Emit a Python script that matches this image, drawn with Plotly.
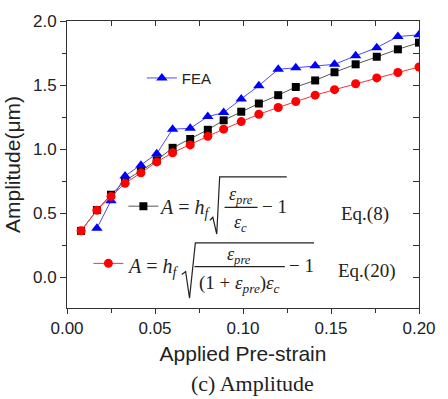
import plotly.graph_objects as go

# ---------------- data ----------------
strain = [0.008, 0.017, 0.025, 0.033, 0.042, 0.051, 0.060, 0.070, 0.080, 0.089,
          0.099, 0.109, 0.120, 0.130, 0.141, 0.152, 0.164, 0.176, 0.188, 0.200]
eq8 = [0.362, 0.525, 0.644, 0.754, 0.831, 0.913, 1.010, 1.079, 1.151, 1.225,
       1.292, 1.356, 1.421, 1.485, 1.536, 1.600, 1.662, 1.721, 1.779, 1.831]
eq20 = [0.362, 0.523, 0.631, 0.733, 0.815, 0.900, 0.972, 1.033, 1.100, 1.156,
        1.215, 1.272, 1.325, 1.372, 1.421, 1.464, 1.510, 1.556, 1.598, 1.641]
fea_strain = strain[1:]
fea = [0.382, 0.598, 0.790, 0.875, 0.964, 1.156, 1.162, 1.254, 1.285,
       1.392, 1.495, 1.623, 1.635, 1.651, 1.662, 1.728, 1.792, 1.879, 1.892]

x_ticks = [0.00, 0.05, 0.10, 0.15, 0.20]
y_ticks = [0.0, 0.5, 1.0, 1.5, 2.0]

W, H = 448, 399
L, R, T, B = 66, 20, 17, 91
PW, PH = W - L - R, H - T - B


def X(px):
    return (px - L) / PW


def Y(py):
    return (H - B - py) / PH


fig = go.Figure()
fig.add_trace(go.Scatter(x=strain, y=eq8, mode="lines+markers", name=" ",
                         line=dict(color="#555555", width=1),
                         marker=dict(symbol="square", size=8, color="#000000"),
                         legend="legend2"))
fig.add_trace(go.Scatter(x=fea_strain, y=fea, mode="lines+markers", name="FEA",
                         line=dict(color="#4a4aff", width=1),
                         marker=dict(symbol="triangle-up", size=10, color="#0000ff"),
                         legend="legend"))
fig.add_trace(go.Scatter(x=strain, y=eq20, mode="lines+markers", name=" ",
                         line=dict(color="#ff3030", width=1),
                         marker=dict(symbol="circle", size=9, color="#ff0000"),
                         legend="legend3"))

# invisible trace for top/right mirror axes
fig.add_trace(go.Scatter(x=[0, 0.2], y=[-0.24, 2.0], xaxis="x2", yaxis="y2",
                         mode="markers", marker=dict(opacity=0), showlegend=False,
                         hoverinfo="skip"))

tickfont = dict(family="Liberation Sans, Arial", size=17, color="#222222")
common_x = dict(range=[0, 0.2], showgrid=False, zeroline=False, linecolor="#333333",
                linewidth=1, tickcolor="#333333", ticklen=5, tickwidth=1)
common_y = dict(range=[-0.24, 2.0], showgrid=False, zeroline=False, linecolor="#333333",
                linewidth=1, tickcolor="#333333", ticklen=6, tickwidth=1)

fig.update_layout(
    width=W, height=H,
    margin=dict(l=L, r=R, t=T, b=B),
    paper_bgcolor="white", plot_bgcolor="white",
    xaxis=dict(**common_x, tickvals=x_ticks, ticktext=[f"{v:.2f}" for v in x_ticks],
               ticks="outside", tickfont=tickfont, showline=True,
               minor=dict(dtick=0.025, ticks="outside", ticklen=4, tickcolor="#333333"),
               title=dict(text="Applied Pre-strain",
                          font=dict(family="Liberation Sans, Arial", size=21, color="#222222"),
                          standoff=8)),
    yaxis=dict(**common_y, tickvals=y_ticks, ticktext=[f"{v:.1f}" for v in y_ticks],
               ticks="outside", tickfont=tickfont, showline=True,
               minor=dict(dtick=0.25, tick0=0, ticks="outside", ticklen=4, tickcolor="#333333"),
               title=dict(text="Amplitude(μm)",
                          font=dict(family="Liberation Sans, Arial", size=21, color="#222222"),
                          standoff=6)),
    xaxis2=dict(**common_x, overlaying="x", side="top", tickvals=x_ticks, ticks="inside",
                showticklabels=False, showline=True,
                minor=dict(dtick=0.025, ticks="inside", ticklen=5, tickcolor="#333333")),
    yaxis2=dict(**common_y, overlaying="y", side="right", tickvals=y_ticks, ticks="inside",
                showticklabels=False, showline=True,
                minor=dict(dtick=0.25, tick0=0, ticks="inside", ticklen=6, tickcolor="#333333")),
    legend=dict(x=X(143), y=Y(75), xanchor="left", yanchor="middle",
                bgcolor="rgba(0,0,0,0)", borderwidth=0,
                font=dict(family="Liberation Sans, Arial", size=15, color="#222222")),
    legend2=dict(x=X(124), y=Y(205), xanchor="left", yanchor="middle",
                 bgcolor="rgba(0,0,0,0)", borderwidth=0,
                 font=dict(family="Liberation Sans, Arial", size=15)),
    legend3=dict(x=X(88), y=Y(263), xanchor="left", yanchor="middle",
                 bgcolor="rgba(0,0,0,0)", borderwidth=0,
                 font=dict(family="Liberation Sans, Arial", size=15)),
    showlegend=True,
)

serif = "Liberation Serif, Times New Roman"
ann = []


def txt(text, px, py, size=19, xanchor="center", family=serif):
    ann.append(dict(text=text, x=X(px), y=Y(py), xref="paper", yref="paper",
                    xanchor=xanchor, yanchor="middle", showarrow=False,
                    font=dict(family=family, size=size, color="#222222")))


# Eq.(8) row
txt("<i>A</i> = <i>h<sub>f</sub></i>", 159, 207, size=20, xanchor="left")
txt("<i>ε<sub>pre</sub></i>", 245, 194, size=18)
txt("<i>ε<sub>c</sub></i>", 244, 222, size=18)
txt("− 1", 279, 205, size=19)
txt("Eq.(8)", 372, 213, size=19)
# Eq.(20) row
txt("<i>A</i> = <i>h<sub>f</sub></i>", 126, 267, size=20, xanchor="left")
txt("<i>ε<sub>pre</sub></i>", 243, 255, size=18)
txt("(1 + <i>ε<sub>pre</sub></i>)<i>ε<sub>c</sub></i>", 243, 284, size=19)
txt("− 1", 307, 265, size=19)
txt("Eq.(20)", 375, 270, size=19)
# caption
txt("(c) Amplitude", 257, 385, size=22)

shapes = []


def path(points):
    d = "M " + " L ".join(f"{X(a):.5f},{Y(b):.5f}" for a, b in points)
    shapes.append(dict(type="path", path=d, xref="paper", yref="paper",
                       line=dict(color="#222222", width=1.2)))


# radicals and fraction bars
path([(213, 219), (216, 216), (220, 233), (223, 175), (292, 175)])
path([(228, 206), (262, 206)])
path([(184, 274), (188, 271), (192, 298), (198, 242), (320, 242)])
path([(197, 266), (290, 266)])

fig.update_layout(annotations=ann, shapes=shapes)
fig.write_html("out.html")
